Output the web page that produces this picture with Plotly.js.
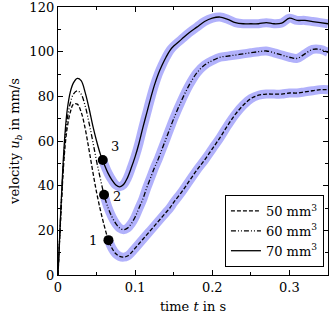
<!DOCTYPE html>
<html>
<head>
<meta charset="utf-8">
<script src="https://cdn.plot.ly/plotly-3.0.1.min.js"></script>
<style>
  html, body { margin: 0; padding: 0; background: #fff; }
  #chart { width: 329px; height: 319px; }
</style>
</head>
<body>
<div id="chart"></div>
<script>
// time axis (s)
const time = [0, 0.003, 0.006, 0.009, 0.012, 0.016, 0.02, 0.025, 0.03, 0.035, 0.04, 0.045,
  0.05, 0.055, 0.06, 0.065, 0.07, 0.075, 0.08, 0.085, 0.09, 0.095, 0.1, 0.105, 0.11, 0.115,
  0.12, 0.125, 0.13, 0.135, 0.14, 0.145, 0.15, 0.16, 0.17, 0.18, 0.19, 0.2, 0.21, 0.22, 0.23,
  0.24, 0.25, 0.26, 0.27, 0.28, 0.29, 0.3, 0.31, 0.32, 0.33, 0.34, 0.35];

// velocity u_b (mm/s) per droplet volume
const v50 = [0, 22, 42, 57, 66, 73, 76.5, 76.5, 73, 66, 56.5, 46.5,
  37, 29, 22, 16, 12, 9.5, 8.3, 8, 8.5, 10, 12, 14, 16, 18,
  20, 22, 24, 26, 28, 30, 32.5, 37, 42, 47, 51.5, 56.5, 61.5, 67, 72,
  76, 79, 80.5, 81, 81, 81, 81.5, 81.5, 82, 82.5, 83, 83];
const v60 = [0, 23, 44, 60, 70, 77, 81, 82.5, 81, 76, 68.5, 60,
  51, 43, 35.5, 30, 26, 23, 21, 20.3, 21, 23, 26, 30, 34, 39,
  43.5, 48, 52, 56.5, 61, 65.5, 70, 78, 85, 90.5, 94, 96, 97.5, 98, 98.5,
  99, 99.5, 100, 100.3, 99.5, 98.5, 97.5, 97, 99, 101, 101, 99.7];
const v70 = [0, 24, 46, 63, 74, 82, 86, 88, 87, 82, 75, 67,
  60, 54, 49.5, 45.5, 42.5, 40.3, 39.5, 40.5, 43.5, 48, 53, 59, 66, 72.5,
  79, 85, 90, 94, 97.5, 100.5, 102.5, 105.5, 108.5, 111, 113.5, 115, 115.5, 114.5, 113,
  112.5, 112.5, 112.5, 113, 112.5, 112.8, 115, 114, 114, 113.5, 113, 112.5];

const seriesNames = ['50 mm<sup>3</sup>', '60 mm<sup>3</sup>', '70 mm<sup>3</sup>'];
const seriesDash = ['4px,2px', '5px,2px,1px,2px,1px,2px', 'solid'];

// marked points where the highlighted band starts
const markT = [0.0654, 0.0597, 0.058];
const markV = [15.6, 35.9, 51.5];
const markLabels = ['1', '2', '3'];

const xTicks = [0, 0.1, 0.2, 0.3];
const yTicks = [0, 20, 40, 60, 80, 100, 120];

const FONT = 'DejaVu Serif';
const series = [v50, v60, v70];

// blue band from marker onwards
const bands = series.map((vals, i) => {
  const bx = [markT[i]], by = [markV[i]];
  time.forEach((t, k) => { if (t > markT[i]) { bx.push(t); by.push(vals[k]); } });
  return {
    x: bx, y: by, mode: 'lines', type: 'scatter', showlegend: false, hoverinfo: 'skip',
    line: { color: 'rgba(70,70,245,0.42)', width: 9, shape: 'spline' }
  };
});

const lines = series.map((vals, i) => ({
  x: time, y: vals, mode: 'lines', type: 'scatter', name: seriesNames[i],
  line: { color: '#000', width: 1.3, dash: seriesDash[i], shape: 'spline' }
}));

const marks = {
  x: markT, y: markV, mode: 'markers', type: 'scatter', showlegend: false,
  marker: { color: '#000', size: 10 }
};

// label offsets (px) next to each marker
const labelShift = [[-15, 0], [13, -2], [12, 13]];
const annotations = markLabels.map((txt, i) => ({
  x: markT[i], y: markV[i], text: txt, showarrow: false,
  xshift: labelShift[i][0], yshift: labelShift[i][1],
  font: { family: FONT, size: 13, color: '#000' }
}));

const layout = {
  width: 329, height: 319,
  margin: { l: 58, r: 1, t: 7, b: 44 },
  paper_bgcolor: '#fff', plot_bgcolor: '#fff',
  font: { family: FONT, size: 13, color: '#000' },
  showlegend: true,
  legend: {
    x: 0.985, y: 0.03, xanchor: 'right', yanchor: 'bottom',
    bgcolor: '#fff', bordercolor: '#000', borderwidth: 1,
    font: { family: FONT, size: 13 }, itemwidth: 30, tracegroupgap: 0
  },
  xaxis: {
    range: [0, 0.35], tickvals: xTicks, ticktext: xTicks.map(String),
    ticks: 'inside', ticklen: 5, tickcolor: '#000', showline: true, linecolor: '#000',
    linewidth: 1.2, mirror: 'ticks', showgrid: false, zeroline: false,
    tickfont: { family: FONT, size: 13 }, ticklabeloverflow: 'allow',
    minor: { tickvals: [0.05, 0.15, 0.25], ticks: 'inside', ticklen: 3, tickcolor: '#000' },
    title: { text: 'time <i>t</i> in s', standoff: 8, font: { family: FONT, size: 13 } }
  },
  yaxis: {
    range: [0, 120], tickvals: yTicks, ticktext: yTicks.map(String),
    ticks: 'inside', ticklen: 5, tickcolor: '#000',
    showline: true, linecolor: '#000', linewidth: 1.2, mirror: 'ticks',
    showgrid: false, zeroline: false,
    tickfont: { family: FONT, size: 13 }, ticklabeloverflow: 'allow',
    minor: { tickvals: [10, 30, 50, 70, 90, 110], ticks: 'inside', ticklen: 3, tickcolor: '#000' },
    title: { text: 'velocity <i>u<sub>b</sub></i> in mm/s', standoff: 6, font: { family: FONT, size: 13 } }
  },
  annotations: annotations
};

Plotly.newPlot('chart', bands.concat(lines, [marks]), layout, { displayModeBar: false, staticPlot: true });
</script>
</body>
</html>
